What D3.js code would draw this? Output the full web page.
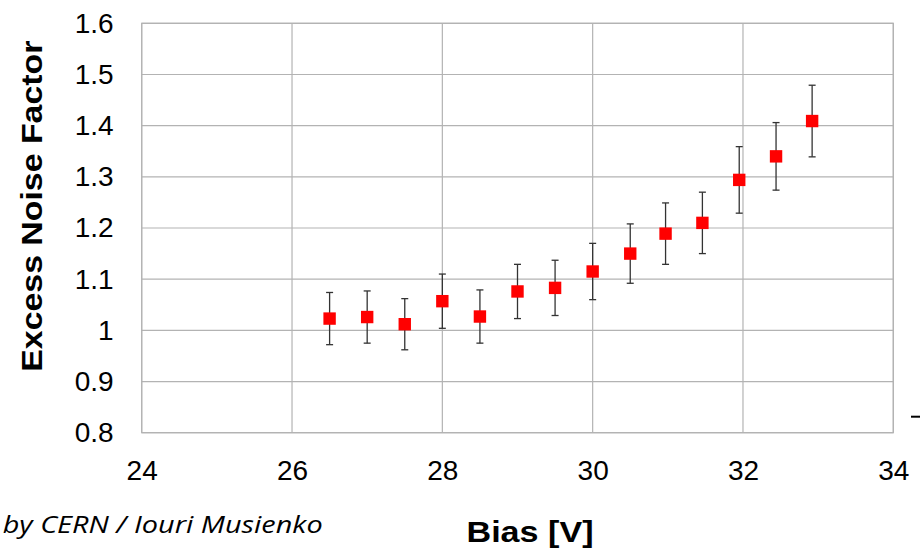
<!DOCTYPE html>
<html>
<head>
<meta charset="utf-8">
<script src="https://cdn.jsdelivr.net/npm/d3@7"></script>
<style>
  body { margin: 0; background: #fff; }
  svg text { font-family: "Liberation Sans", Arial, sans-serif; fill: #000; }
</style>
</head>
<body>
<div id="chart"></div>
<script>
// data
const bias = [26.5, 27, 27.5, 28, 28.5, 29, 29.5, 30, 30.5, 30.97, 31.46, 31.95, 32.44, 32.92];
const enf = [1.023, 1.026, 1.012, 1.057, 1.027, 1.076, 1.083, 1.115, 1.150, 1.189, 1.210, 1.294, 1.340, 1.409];
const enfErr = [0.051, 0.051, 0.05, 0.053, 0.052, 0.053, 0.054, 0.055, 0.058, 0.06, 0.06, 0.065, 0.066, 0.07];
const xTicks = [24, 26, 28, 30, 32, 34];
const yTicks = [0.8, 0.9, 1, 1.1, 1.2, 1.3, 1.4, 1.5, 1.6];

const width = 920, height = 555;
const svg = d3.select("#chart").append("svg")
  .attr("width", width)
  .attr("height", height);

const x = d3.scaleLinear().domain([24, 34]).range([141.7, 893.3]);
const y = d3.scaleLinear().domain([0.8, 1.6]).range([432.7, 23.3]);

// grid
svg.append("g").selectAll("line")
  .data(yTicks).enter().append("line")
  .attr("x1", x(24)).attr("x2", x(34))
  .attr("y1", d => y(d)).attr("y2", d => y(d))
  .attr("stroke", "#b3b3b3").attr("stroke-width", 1.2);
svg.append("g").selectAll("line")
  .data(xTicks).enter().append("line")
  .attr("x1", d => x(d)).attr("x2", d => x(d))
  .attr("y1", y(0.8)).attr("y2", y(1.6))
  .attr("stroke", "#b3b3b3").attr("stroke-width", 1.2);
svg.append("rect")
  .attr("x", x(24)).attr("y", y(1.6))
  .attr("width", x(34) - x(24)).attr("height", y(0.8) - y(1.6))
  .attr("fill", "none").attr("stroke", "#b3b3b3").attr("stroke-width", 1.2);

// axes (labels only)
const yAxis = svg.append("g")
  .attr("transform", `translate(${x(24)},0)`)
  .call(d3.axisLeft(y).tickValues(yTicks).tickSize(0).tickPadding(28).tickFormat(d => String(d)));
const xAxis = svg.append("g")
  .attr("transform", `translate(0,${y(0.8)})`)
  .call(d3.axisBottom(x).tickValues(xTicks).tickSize(0).tickPadding(27).tickFormat(d => String(d)));
[yAxis, xAxis].forEach(a => {
  a.select(".domain").remove();
  a.selectAll("text")
    .attr("font-family", "'Liberation Sans', Arial, sans-serif")
    .attr("font-size", 28)
    .attr("fill", "#000");
});

// error bars
const pts = bias.map((b, i) => ({ x: b, y: enf[i], e: enfErr[i] }));
const eb = svg.append("g").attr("stroke", "#333").attr("stroke-width", 1.3);
eb.selectAll(".v").data(pts).enter().append("line")
  .attr("x1", d => x(d.x)).attr("x2", d => x(d.x))
  .attr("y1", d => y(d.y - d.e)).attr("y2", d => y(d.y + d.e));
eb.selectAll(".t").data(pts).enter().append("line")
  .attr("x1", d => x(d.x) - 3.5).attr("x2", d => x(d.x) + 3.5)
  .attr("y1", d => y(d.y + d.e)).attr("y2", d => y(d.y + d.e));
eb.selectAll(".b").data(pts).enter().append("line")
  .attr("x1", d => x(d.x) - 3.5).attr("x2", d => x(d.x) + 3.5)
  .attr("y1", d => y(d.y - d.e)).attr("y2", d => y(d.y - d.e));

// markers
svg.append("g").selectAll("rect")
  .data(pts).enter().append("rect")
  .attr("x", d => x(d.x) - 6.2)
  .attr("y", d => y(d.y) - 6.2)
  .attr("width", 12.4).attr("height", 12.4)
  .attr("fill", "#ff0000");

// titles
svg.append("text")
  .attr("transform", "translate(42.3,206.2) rotate(-90)")
  .attr("text-anchor", "middle")
  .attr("font-weight", "bold")
  .attr("font-size", 29)
  .attr("textLength", 331)
  .attr("lengthAdjust", "spacingAndGlyphs")
  .text("Excess Noise Factor");

svg.append("text")
  .attr("x", 530).attr("y", 542.3)
  .attr("text-anchor", "middle")
  .attr("font-weight", "bold")
  .attr("font-size", 30)
  .attr("textLength", 127)
  .attr("lengthAdjust", "spacingAndGlyphs")
  .text("Bias [V]");

svg.append("text")
  .attr("x", 2.7).attr("y", 533.3)
  .attr("font-style", "italic")
  .attr("font-size", 23)
  .attr("textLength", 320)
  .attr("lengthAdjust", "spacingAndGlyphs")
  .style("font-family", "'Open Sans', 'Liberation Sans', sans-serif")
  .text("by CERN / Iouri Musienko");

// small dash at the right edge
svg.append("line")
  .attr("x1", 911).attr("x2", 920)
  .attr("y1", 416.7).attr("y2", 416.7)
  .attr("stroke", "#000").attr("stroke-width", 2);
</script>
</body>
</html>
